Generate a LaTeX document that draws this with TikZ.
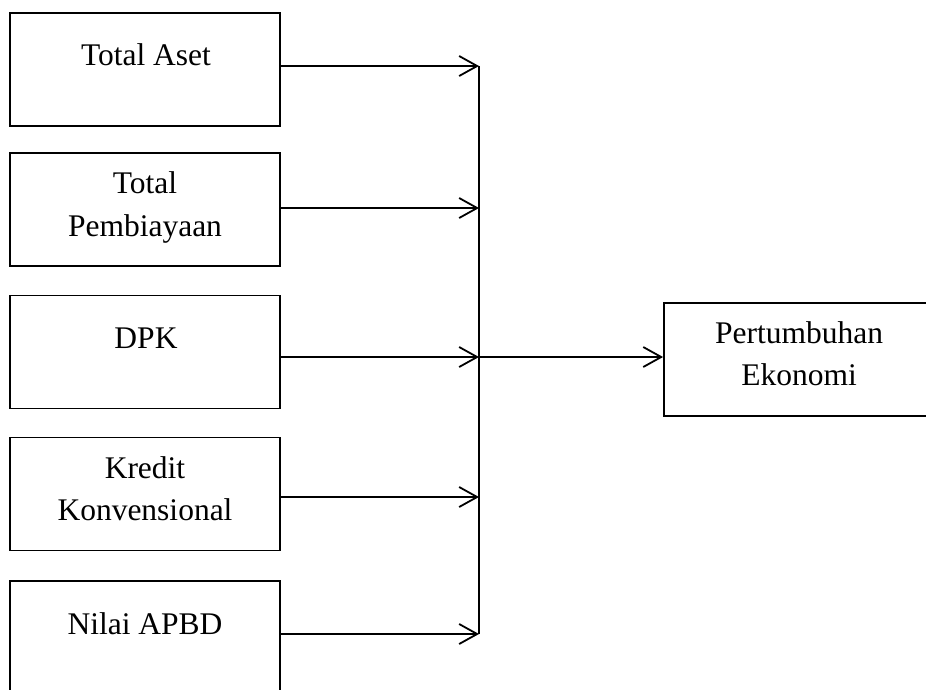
\documentclass[tikz,border=0pt]{standalone}
\usepackage{fontspec}
\setmainfont{Liberation Serif}
\usetikzlibrary{arrows.meta}
\begin{document}
\begin{tikzpicture}[x=1pt,y=-1pt,
  box/.style={draw,line width=1.8pt,minimum width=270pt,minimum height=113pt,inner sep=0pt},
  lbl/.style={anchor=base,inner sep=0pt,font=\fontsize{31.5}{43}\selectfont},
  conn/.style={line width=1.8pt,-{Straight Barb[length=18pt,width=20pt,line width=1.8pt]}},
  bus/.style={line width=1.8pt}]
\useasboundingbox (0,0) rectangle (926,689);
\clip (0,0) rectangle (926,689);
\node[box] (b1) at (145,69.5) {};
\node[box] (b2) at (145,209.5) {};
\node[box] (b3) at (145,352) {};
\node[box] (b4) at (145,494) {};
\node[box,minimum height=139pt] (b5) at (145,650.5) {};
\node[box] (res) at (799,359.5) {};
\node[lbl] (t1) at (146,65) {Total Aset};
\node[lbl] (t2a) at (145,193) {Total};
\node[lbl] (t2b) at (145,236) {Pembiayaan};
\node[lbl] (t3) at (146,348) {DPK};
\node[lbl] (t4a) at (145,478) {Kredit};
\node[lbl] (t4b) at (145,520) {Konvensional};
\node[lbl] (t5) at (145,634) {Nilai APBD};
\node[lbl] (t6a) at (799,343) {Pertumbuhan};
\node[lbl] (t6b) at (799,385) {Ekonomi};
\coordinate (j1) at (479,66);
\coordinate (j2) at (479,208);
\coordinate (j3) at (479,357);
\coordinate (j4) at (479,497);
\coordinate (j5) at (479,634);
\draw[bus] (j1) -- (j5);
\draw[conn] (b1.east |- j1) -- (j1);
\draw[conn] (b2.east |- j2) -- (j2);
\draw[conn] (b3.east |- j3) -- (j3);
\draw[conn] (b4.east |- j4) -- (j4);
\draw[conn] (b5.east |- j5) -- (j5);
\draw[conn] (j3) -- (res.west |- j3);
\end{tikzpicture}
\end{document}
